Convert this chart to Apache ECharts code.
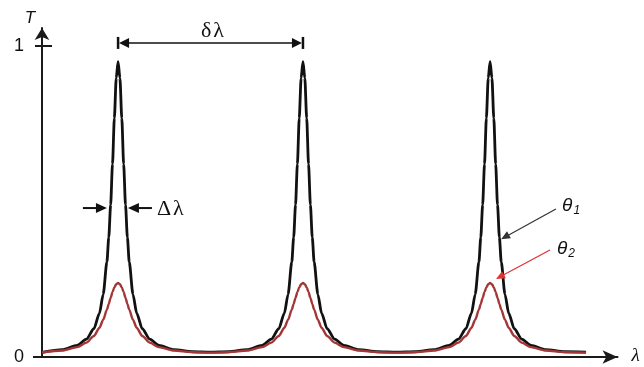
<!DOCTYPE html>
<html><head><meta charset="utf-8">
<script src="https://cdn.jsdelivr.net/npm/echarts@6/dist/echarts.min.js"></script>
<style>html,body{margin:0;padding:0;background:#fff}#c{width:644px;height:367px}</style>
</head><body><div id="c"></div>
<script>
// wavelength positions (arbitrary units, one free spectral range = 1)
const lambda = [
  0.000, 0.109, 0.189, 0.239, 0.279, 0.309, 0.329, 0.349, 0.359, 0.369, 0.379, 0.389, 0.399, 0.409,
  0.419, 0.429, 0.439, 0.449, 0.459, 0.469, 0.489, 0.509, 0.539, 0.579, 0.629, 0.709, 0.809, 0.906,
  1.003, 1.103, 1.183, 1.233, 1.273, 1.303, 1.323, 1.343, 1.353, 1.363, 1.373, 1.383, 1.393, 1.403,
  1.413, 1.423, 1.433, 1.443, 1.453, 1.463, 1.483, 1.503, 1.533, 1.573, 1.623, 1.703, 1.803, 1.906,
  2.009, 2.109, 2.189, 2.239, 2.279, 2.309, 2.329, 2.349, 2.359, 2.369, 2.379, 2.389, 2.399, 2.409,
  2.419, 2.429, 2.439, 2.449, 2.459, 2.469, 2.489, 2.509, 2.539, 2.579, 2.629, 2.709, 2.809, 2.925
];
// transmission, angle theta1 (black)
const T_theta1 = [
  0.0150, 0.0236, 0.0374, 0.0574, 0.0908, 0.1412, 0.2017, 0.3058, 0.3849, 0.4891, 0.6204, 0.7683, 0.8969, 0.950,
  0.8969, 0.7683, 0.6204, 0.4891, 0.3849, 0.3058, 0.2017, 0.1412, 0.0908, 0.0574, 0.0374, 0.0236, 0.0172, 0.0156,
  0.0172, 0.0236, 0.0374, 0.0574, 0.0908, 0.1412, 0.2017, 0.3058, 0.3849, 0.4891, 0.6204, 0.7683, 0.8969, 0.950,
  0.8969, 0.7683, 0.6204, 0.4891, 0.3849, 0.3058, 0.2017, 0.1412, 0.0908, 0.0574, 0.0374, 0.0236, 0.0172, 0.0156,
  0.0172, 0.0236, 0.0374, 0.0574, 0.0908, 0.1412, 0.2017, 0.3058, 0.3849, 0.4891, 0.6204, 0.7683, 0.8969, 0.950,
  0.8969, 0.7683, 0.6204, 0.4891, 0.3849, 0.3058, 0.2017, 0.1412, 0.0908, 0.0574, 0.0374, 0.0236, 0.0172, 0.0156
];
// transmission, angle theta2 (red)
const T_theta2 = [
  0.0145, 0.0207, 0.0317, 0.0462, 0.0675, 0.0942, 0.1196, 0.1524, 0.1710, 0.1902, 0.2085, 0.2239, 0.2343, 0.238,
  0.2343, 0.2239, 0.2085, 0.1902, 0.1710, 0.1524, 0.1196, 0.0942, 0.0675, 0.0462, 0.0317, 0.0207, 0.0154, 0.0140,
  0.0154, 0.0207, 0.0317, 0.0462, 0.0675, 0.0942, 0.1196, 0.1524, 0.1710, 0.1902, 0.2085, 0.2239, 0.2343, 0.238,
  0.2343, 0.2239, 0.2085, 0.1902, 0.1710, 0.1524, 0.1196, 0.0942, 0.0675, 0.0462, 0.0317, 0.0207, 0.0154, 0.0140,
  0.0154, 0.0207, 0.0317, 0.0462, 0.0675, 0.0942, 0.1196, 0.1524, 0.1710, 0.1902, 0.2085, 0.2239, 0.2343, 0.238,
  0.2343, 0.2239, 0.2085, 0.1902, 0.1710, 0.1524, 0.1196, 0.0942, 0.0675, 0.0462, 0.0317, 0.0207, 0.0154, 0.0140
];
const yTickLabels = [0, 1];
const seriesNames = ['θ1', 'θ2'];
// annotation anchors in data units
const deltaLambdaSpan = [0.409, 1.403];   // δλ between adjacent peaks
const deltaLambdaY = 1.01;
const fwhmTips = [0.349, 0.462];          // Δλ arrow tips
const fwhmTails = [0.220, 0.591];
const fwhmY = 0.479;
const theta1Arrow = [[2.763, 0.476], [2.468, 0.379]];
const theta2Arrow = [[2.731, 0.344], [2.441, 0.251]];
const theta1Label = [2.796, 0.486];
const theta2Label = [2.769, 0.347];

const X_MAX = 3.094, Y_MAX = 1.058;
const chart = echarts.init(document.getElementById('c'), null, {renderer: 'canvas'});
const axisColor = '#1a1a1a';
chart.setOption({
  animation: false,
  backgroundColor: '#fff',
  grid: {left: 42, right: 26.5, top: 28, bottom: 10, containLabel: false},
  xAxis: {
    type: 'value', min: 0, max: X_MAX,
    axisLine: {show: true, lineStyle: {color: axisColor, width: 2}, symbol: ['none', 'arrow'], symbolSize: [10, 15]},
    axisTick: {show: false}, axisLabel: {show: false}, splitLine: {show: false}
  },
  yAxis: [{
    type: 'value', min: 0, max: Y_MAX,
    axisLine: {show: true, lineStyle: {color: axisColor, width: 2}, symbol: ['none', 'arrow'], symbolSize: [11, 12]},
    axisTick: {show: true, customValues: [1], length: 7, lineStyle: {color: axisColor, width: 2}},
    axisLabel: {show: true, customValues: yTickLabels, margin: 18, fontSize: 18, color: '#111', fontFamily: 'Liberation Sans'},
    splitLine: {show: false}
  }, {
    type: 'value', min: 0, max: Y_MAX, position: 'left',
    axisLine: {show: false},
    axisTick: {show: true, inside: true, customValues: [1], length: 10, lineStyle: {color: axisColor, width: 2}},
    axisLabel: {show: false}, splitLine: {show: false}
  }],
  series: [{
    name: seriesNames[0], type: 'line', showSymbol: false, smooth: 0.25, smoothMonotone: 'x',
    data: lambda.map((x, i) => [x, T_theta1[i]]),
    lineStyle: {color: '#111', width: 2.8}, z: 2
  }, {
    name: seriesNames[1], type: 'line', showSymbol: false, smooth: 0.25, smoothMonotone: 'x',
    data: lambda.map((x, i) => [x, T_theta2[i]]),
    lineStyle: {color: '#a33636', width: 2.4}, z: 3
  }]
});

function p(x, y) { return chart.convertToPixel({gridIndex: 0}, [x, y]); }
function arrowHead(tip, dir, color, hl, hw) {
  const L = Math.hypot(dir[0], dir[1]), ux = dir[0] / L, uy = dir[1] / L;
  const bx = tip[0] - ux * hl, by = tip[1] - uy * hl;
  return {type: 'polygon', silent: true, z: 10,
    shape: {points: [[tip[0], tip[1]], [bx - uy * hw, by + ux * hw], [bx + uy * hw, by - ux * hw]]},
    style: {fill: color}};
}
function arrow(from, to, color, lw, hl, hw) {
  const dx = to[0] - from[0], dy = to[1] - from[1], L = Math.hypot(dx, dy);
  const bx = to[0] - dx / L * hl * 0.8, by = to[1] - dy / L * hl * 0.8;
  return [
    {type: 'line', silent: true, z: 10, shape: {x1: from[0], y1: from[1], x2: bx, y2: by}, style: {stroke: color, lineWidth: lw}},
    arrowHead(to, [dx, dy], color, hl, hw)
  ];
}
function line(a, b, color, lw) {
  return {type: 'line', silent: true, z: 10, shape: {x1: a[0], y1: a[1], x2: b[0], y2: b[1]}, style: {stroke: color, lineWidth: lw}};
}
function text(pt, str, opts) {
  return {type: 'text', silent: true, z: 10, x: pt[0], y: pt[1],
    style: Object.assign({text: str, fill: '#111'}, opts)};
}

const g = [];
const origin = p(0, 0), yEnd = p(0, Y_MAX), xEnd = p(X_MAX, 0);
g.push(line([origin[0] - 9, origin[1]], origin, axisColor, 2));
g.push(text([yEnd[0] - 12, yEnd[1] - 10], 'T', {font: 'italic 17px "Liberation Sans"', align: 'center', verticalAlign: 'middle'}));
g.push(text([xEnd[0] + 14, xEnd[1] - 1], 'λ', {font: 'italic 19px "Liberation Serif"', align: 'left', verticalAlign: 'middle'}));
// δλ double arrow
const dl = p(deltaLambdaSpan[0], deltaLambdaY), dr = p(deltaLambdaSpan[1], deltaLambdaY);
g.push(line([dl[0] + 8, dl[1]], [dr[0] - 8, dr[1]], '#111', 1.5));
g.push(arrowHead([dl[0] + 1, dl[1]], [-1, 0], '#111', 10, 5));
g.push(arrowHead([dr[0] - 1, dr[1]], [1, 0], '#111', 10, 5));
g.push(line([dl[0], dl[1] - 6], [dl[0], dl[1] + 6], '#111', 2.5));
g.push(line([dr[0], dr[1] - 6], [dr[0], dr[1] + 6], '#111', 2.5));
g.push(text([(dl[0] + dr[0]) / 2 + 2, dl[1] - 1], 'δ\u200Aλ', {font: '22px "Liberation Serif"', align: 'center', verticalAlign: 'bottom'}));
// Δλ arrows
const fl0 = p(fwhmTails[0], fwhmY), fl1 = p(fwhmTips[0], fwhmY);
const fr0 = p(fwhmTails[1], fwhmY), fr1 = p(fwhmTips[1], fwhmY);
g.push(...arrow(fl0, fl1, '#111', 2, 11, 5));
g.push(...arrow(fr0, fr1, '#111', 2, 11, 5));
g.push(text([fr0[0] + 5, fr0[1] + 1], 'Δ\u200Aλ', {font: '22px "Liberation Serif"', align: 'left', verticalAlign: 'middle'}));
// θ annotations
g.push(...arrow(p(...theta1Arrow[0]), p(...theta1Arrow[1]), '#333', 1.2, 9, 4));
g.push(...arrow(p(...theta2Arrow[0]), p(...theta2Arrow[1]), '#d33', 1.2, 9, 4));
const richTheta = {
  t: {font: 'italic 19px "Liberation Sans"', fill: '#111'},
  s: {font: 'italic 12px "Liberation Sans"', fill: '#111', padding: [10, 0, 0, 1]}
};
const l1 = p(...theta1Label), l2 = p(...theta2Label);
g.push({type: 'text', silent: true, z: 10, x: l1[0], y: l1[1],
  style: {text: '{t|θ}{s|1}', rich: richTheta, align: 'left', verticalAlign: 'middle'}});
g.push({type: 'text', silent: true, z: 10, x: l2[0], y: l2[1],
  style: {text: '{t|θ}{s|2}', rich: richTheta, align: 'left', verticalAlign: 'middle'}});

chart.setOption({graphic: g});
</script>
</body></html>
